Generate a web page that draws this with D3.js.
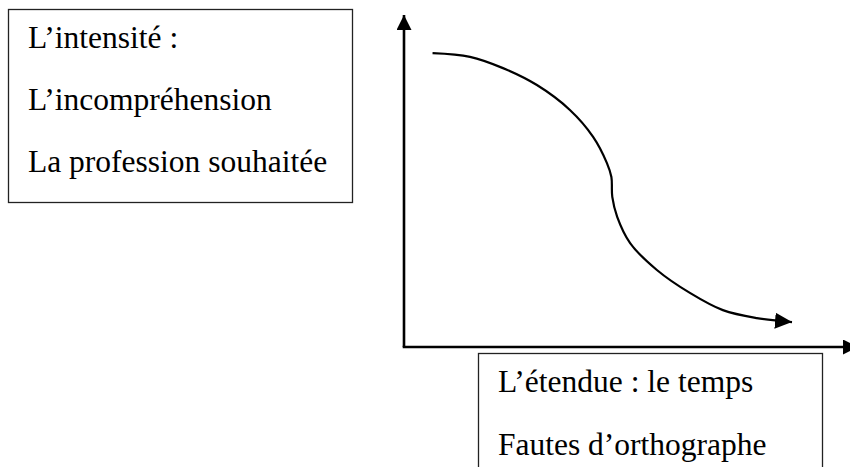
<!DOCTYPE html>
<html>
<head>
<meta charset="utf-8">
<script src="https://cdn.jsdelivr.net/npm/d3@7/dist/d3.min.js"></script>
<style>
  html, body { margin: 0; padding: 0; background: #fff; }
  text { font-family: "Liberation Serif", "Times New Roman", serif; fill: #000; }
</style>
</head>
<body>
<div id="figure"></div>
<script>
(function() {
  const width = 850;
  const height = 467;

  // curve (arbitrary units 0..10 on both axes)
  const curveX = [0.64, 1.48, 2.22, 2.98, 3.72, 4.24, 4.55, 4.65, 4.67, 4.78, 5.07, 5.67, 6.41, 7.15, 7.91, 8.70];
  const curveY = [8.85, 8.74, 8.40, 7.89, 7.14, 6.33, 5.54, 5.12, 4.52, 3.92, 3.13, 2.32, 1.63, 1.11, 0.87, 0.75];

  const yLabels = ["L\u2019intensité :", "L\u2019incompréhension", "La profession souhaitée"];
  const xLabels = ["L\u2019étendue : le temps", "Fautes d\u2019orthographe"];

  const x = d3.scaleLinear().domain([0, 10]).range([404, 850]);
  const y = d3.scaleLinear().domain([0, 10]).range([347, 15]);

  const svg = d3.select("#figure")
    .append("svg")
    .attr("width", width)
    .attr("height", height);

  const defs = svg.append("defs");
  function arrow(id, w, h) {
    defs.append("marker")
      .attr("id", id)
      .attr("viewBox", "0 0 " + w + " " + h)
      .attr("refX", w)
      .attr("refY", h / 2)
      .attr("markerUnits", "userSpaceOnUse")
      .attr("markerWidth", w)
      .attr("markerHeight", h)
      .attr("orient", "auto")
      .append("path")
      .attr("d", "M0,0L" + w + "," + (h / 2) + "L0," + h + "Z")
      .attr("fill", "#000");
  }
  arrow("axisArrow", 15, 15);
  arrow("curveArrow", 17, 16);

  // y axis
  svg.append("line")
    .attr("x1", x(0)).attr("y1", y(0))
    .attr("x2", x(0)).attr("y2", y(10))
    .attr("stroke", "#000")
    .attr("stroke-width", 2.6)
    .attr("marker-end", "url(#axisArrow)");

  // x axis (tip runs past the window edge)
  svg.append("line")
    .attr("x1", x(0) - 1.3).attr("y1", y(0))
    .attr("x2", x(10.18)).attr("y2", y(0))
    .attr("stroke", "#000")
    .attr("stroke-width", 2.6)
    .attr("marker-end", "url(#axisArrow)");

  const pts = curveX.map(function(d, i) { return [d, curveY[i]]; });
  const line = d3.line()
    .x(function(d) { return x(d[0]); })
    .y(function(d) { return y(d[1]); })
    .curve(d3.curveCatmullRom.alpha(0.5));

  svg.append("path")
    .datum(pts)
    .attr("d", line)
    .attr("fill", "none")
    .attr("stroke", "#000")
    .attr("stroke-width", 2.2)
    .attr("marker-end", "url(#curveArrow)");

  // left box
  svg.append("rect")
    .attr("x", 8.5).attr("y", 9.5)
    .attr("width", 344).attr("height", 193)
    .attr("fill", "none")
    .attr("stroke", "#222")
    .attr("stroke-width", 1.3);

  svg.selectAll(".ylab")
    .data(yLabels)
    .enter().append("text")
    .attr("class", "ylab")
    .attr("x", 28)
    .attr("y", function(d, i) { return 48 + i * 62; })
    .style("font-size", "31.5px")
    .text(String);

  // bottom box (cut by the window)
  svg.append("rect")
    .attr("x", 478.5).attr("y", 353.5)
    .attr("width", 344).attr("height", 140)
    .attr("fill", "none")
    .attr("stroke", "#222")
    .attr("stroke-width", 1.3);

  svg.selectAll(".xlab")
    .data(xLabels)
    .enter().append("text")
    .attr("class", "xlab")
    .attr("x", 498)
    .attr("y", function(d, i) { return 392 + i * 63; })
    .style("font-size", "31.5px")
    .text(String);
})();
</script>
</body>
</html>
